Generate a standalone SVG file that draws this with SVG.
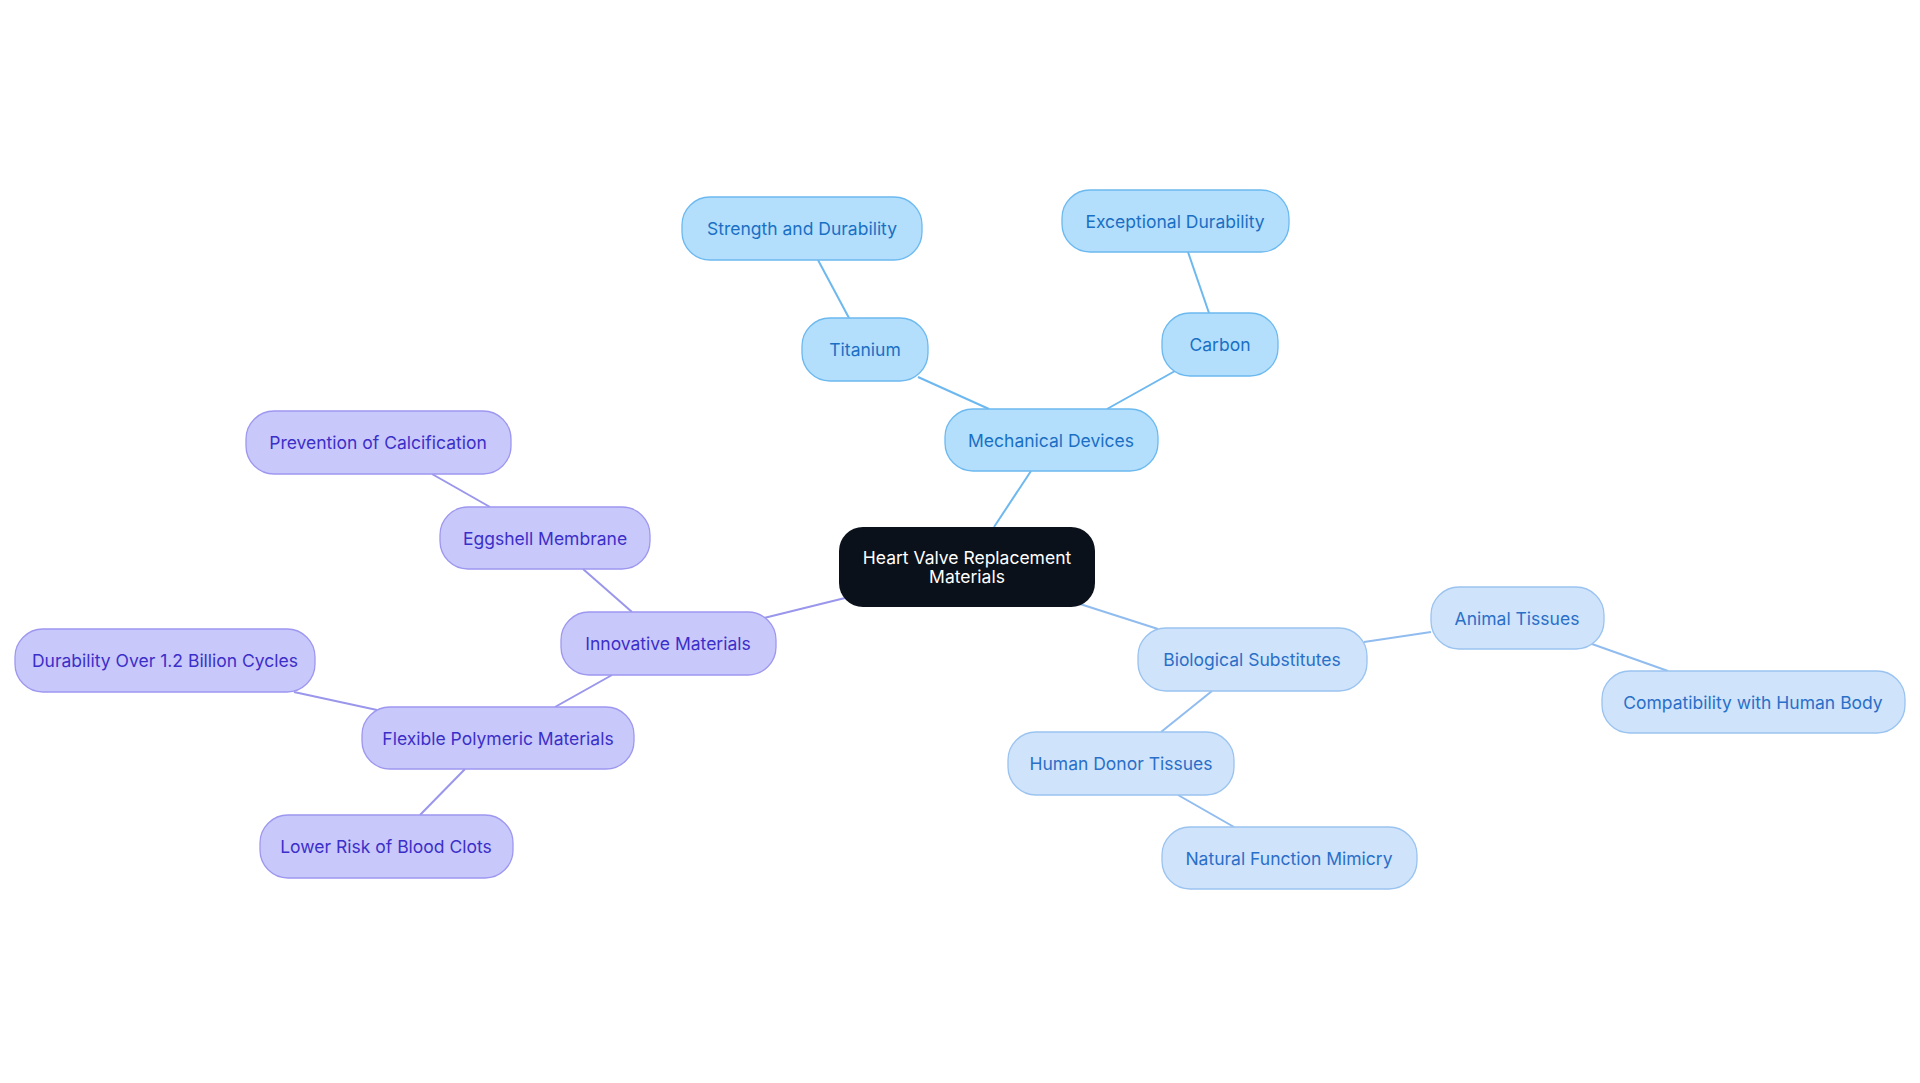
<svg xmlns="http://www.w3.org/2000/svg" width="1920" height="1083" viewBox="0 0 1920 1083">
<style>
text{font-family:Inter,"Noto Sans",sans-serif;font-size:17.5px;text-anchor:middle;dominant-baseline:central}
.m rect{fill:#b3dffc;stroke:#6cb9f0;stroke-width:1.3}.m text{fill:#1a6fc4}
.b rect{fill:#cfe3fb;stroke:#9ac3f0;stroke-width:1.3}.b text{fill:#2a6fc8}
.p rect{fill:#c9c8fb;stroke:#9d97ef;stroke-width:1.3}.p text{fill:#3b2fc9}
.c rect{fill:#0b111a}.c text{fill:#fff}
line{stroke-width:2}.lm{stroke:#6db8ef}.lb{stroke:#90bcef}.lp{stroke:#9a96ec}
</style>
<rect width="1920" height="1083" fill="#fff"/>
<g id="edges">
<line class="lm" x1="994" y1="527" x2="1031" y2="471"/>
<line class="lm" x1="918" y1="377" x2="989" y2="409"/>
<line class="lm" x1="818" y1="260" x2="849" y2="318"/>
<line class="lm" x1="1175" y1="371" x2="1107" y2="409"/>
<line class="lm" x1="1188" y1="252" x2="1209" y2="313"/>
<line class="lp" x1="764" y1="618" x2="845" y2="598"/>
<line class="lp" x1="583" y1="569" x2="632" y2="612"/>
<line class="lp" x1="432" y1="474" x2="490" y2="507"/>
<line class="lp" x1="555" y1="707" x2="612" y2="675"/>
<line class="lp" x1="294" y1="692" x2="377" y2="710"/>
<line class="lp" x1="420" y1="815" x2="465" y2="769"/>
<line class="lb" x1="1080" y1="604" x2="1158" y2="629"/>
<line class="lb" x1="1364" y1="642" x2="1431" y2="632"/>
<line class="lb" x1="1592" y1="644" x2="1668" y2="671"/>
<line class="lb" x1="1161" y1="732" x2="1212" y2="691"/>
<line class="lb" x1="1178" y1="795" x2="1234" y2="827"/>
</g>
<g id="center" class="c"><rect x="839" y="527" width="256" height="80" rx="24"/><text x="967" y="557">Heart Valve Replacement</text><text x="967" y="576">Materials</text></g>
<g id="mech" class="m"><rect x="945" y="409" width="213" height="62" rx="28"/><text x="1051" y="440">Mechanical Devices</text></g>
<g id="titanium" class="m"><rect x="802" y="318" width="126" height="63" rx="28"/><text x="865" y="349">Titanium</text></g>
<g id="strength" class="m"><rect x="682" y="197" width="240" height="63" rx="28"/><text x="802" y="228">Strength and Durability</text></g>
<g id="carbon" class="m"><rect x="1162" y="313" width="116" height="63" rx="28"/><text x="1220" y="344">Carbon</text></g>
<g id="exceptional" class="m"><rect x="1062" y="190" width="227" height="62" rx="28"/><text x="1175" y="221">Exceptional Durability</text></g>
<g id="innov" class="p"><rect x="561" y="612" width="215" height="63" rx="28"/><text x="668" y="643">Innovative Materials</text></g>
<g id="eggshell" class="p"><rect x="440" y="507" width="210" height="62" rx="28"/><text x="545" y="538">Eggshell Membrane</text></g>
<g id="prevention" class="p"><rect x="246" y="411" width="265" height="63" rx="28"/><text x="378" y="442">Prevention of Calcification</text></g>
<g id="flexible" class="p"><rect x="362" y="707" width="272" height="62" rx="28"/><text x="498" y="738">Flexible Polymeric Materials</text></g>
<g id="durability" class="p"><rect x="15" y="629" width="300" height="63" rx="28"/><text x="165" y="660">Durability Over 1.2 Billion Cycles</text></g>
<g id="lowerrisk" class="p"><rect x="260" y="815" width="253" height="63" rx="28"/><text x="386" y="846">Lower Risk of Blood Clots</text></g>
<g id="bio" class="b"><rect x="1138" y="628" width="229" height="63" rx="28"/><text x="1252" y="659">Biological Substitutes</text></g>
<g id="animal" class="b"><rect x="1431" y="587" width="173" height="62" rx="28"/><text x="1517" y="618">Animal Tissues</text></g>
<g id="compat" class="b"><rect x="1602" y="671" width="303" height="62" rx="28"/><text x="1753" y="702">Compatibility with Human Body</text></g>
<g id="donor" class="b"><rect x="1008" y="732" width="226" height="63" rx="28"/><text x="1121" y="763">Human Donor Tissues</text></g>
<g id="natural" class="b"><rect x="1162" y="827" width="255" height="62" rx="28"/><text x="1289" y="858">Natural Function Mimicry</text></g>
</svg>
